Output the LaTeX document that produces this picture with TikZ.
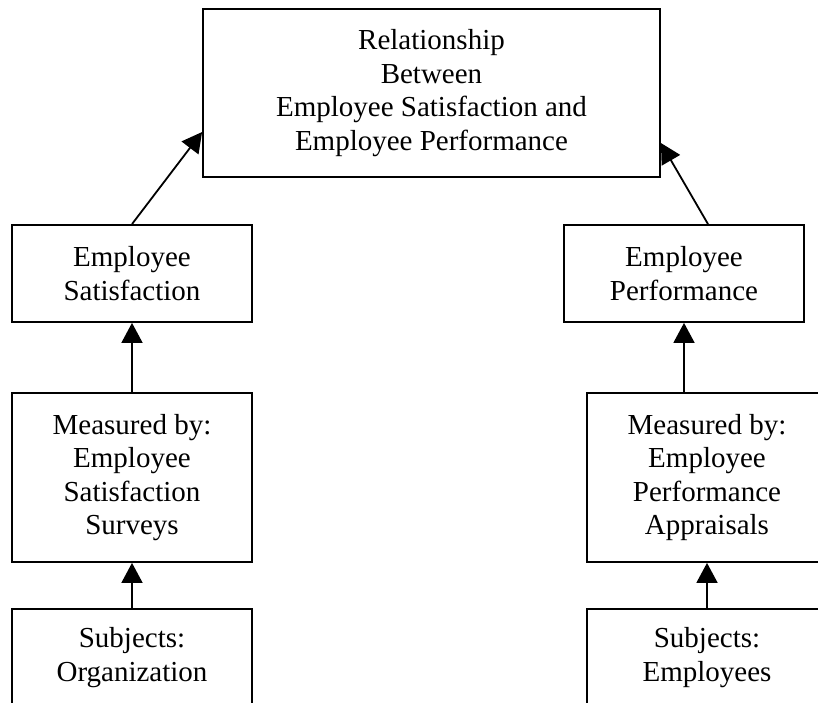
\documentclass[tikz,border=0pt]{standalone}
\usepackage{fontspec}
\setmainfont{Liberation Serif}
\usetikzlibrary{arrows.meta}

\begin{document}
\begin{tikzpicture}[x=0.5pt,y=-0.5pt]
 \tikzset{box/.style = {shape=rectangle,draw,line width=0.9pt,align=center,inner sep=0pt,
   font=\fontsize{14.5}{16.7}\selectfont}}
 \tikzset{edge/.style = {-{Triangle[length=10pt,width=10.5pt]},line width=0.9pt}}
 \clip (0,0) rectangle (818,702);
 % boxes
 \node[box,minimum width=228.5pt,minimum height=84pt] (rel) at (431.5,93)
   {Relationship\\Between\\Employee Satisfaction and\\Employee Performance};
 \node[box,minimum width=120pt,minimum height=48.5pt] (sat) at (132,273.5) {Employee\\Satisfaction};
 \node[box,minimum width=120pt,minimum height=48.5pt] (perf) at (684,273.5) {Employee\\Performance};
 \node[box,minimum width=120pt,minimum height=84.5pt] (msat) at (132,477.5)
   {Measured by:\\Employee\\Satisfaction\\Surveys};
 \node[box,minimum width=120pt,minimum height=84.5pt] (mperf) at (707,477.5)
   {Measured by:\\Employee\\Performance\\Appraisals};
 \node[box,minimum width=120pt,minimum height=48.5pt] (org) at (132,657.5) {Subjects:\\Organization};
 \node[box,minimum width=120pt,minimum height=48.5pt] (emp) at (707,657.5) {Subjects:\\Employees};

 %edges
 \draw[edge] (sat.north) -- ([yshift=-19.5pt]rel.west);
 \draw[edge] ([xshift=12pt]perf.north) -- ([yshift=-25pt]rel.east);
 \draw[edge] (msat.north) -- (sat.south);
 \draw[edge] (perf.south |- mperf.north) -- (perf.south);
 \draw[edge] (org.north) -- (msat.south);
 \draw[edge] (emp.north) -- (mperf.south);
\end{tikzpicture}
\end{document}
